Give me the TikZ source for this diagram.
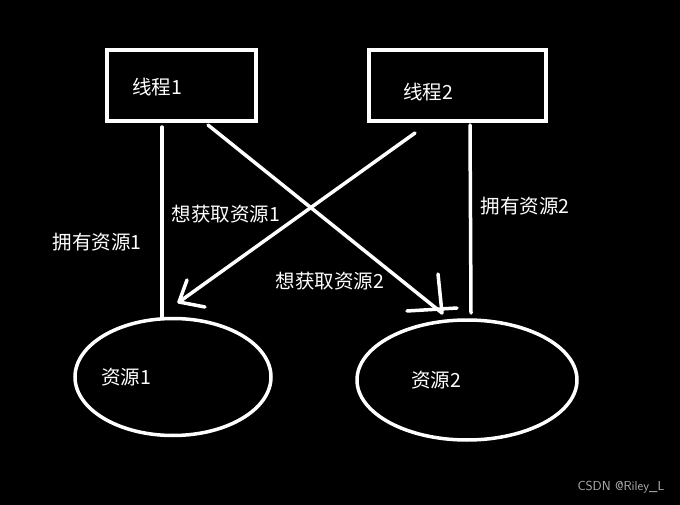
\documentclass[tikz,border=0pt]{standalone}
\usepackage{fontspec}
\setmainfont{Noto Sans CJK SC}
\usetikzlibrary{shapes.geometric}
\begin{document}
\begin{tikzpicture}[x=1pt,y=-1pt,
  ln/.style={draw=white,line width=3.5pt,line cap=round},
  boxst/.style={draw=white,line width=4pt,rectangle,inner sep=0pt},
  ellst/.style={draw=white,line width=3.5pt,ellipse,inner sep=0pt},
  lbl/.style={text=white,font=\fontsize{19.5}{22}\selectfont,inner sep=0pt}]
\fill[black] (0,0) rectangle (680,505);
\useasboundingbox (0,0) rectangle (680,505);
% boxes
\node[boxst,minimum width=149pt,minimum height=71pt] (t1) at (181.5,85.5) {};
\node[boxst,minimum width=177pt,minimum height=71pt] (t2) at (457,85.5) {};
\node[lbl] (t1l) at (157,87) {线程1};
\node[lbl] (t2l) at (428,92) {线程2};
% ellipses
\node[ellst,minimum width=196pt,minimum height=117pt] (r1) at (173,377) {};
\node[ellst,minimum width=220pt,minimum height=120pt] (r2) at (467,380) {};
\node[lbl] (r1l) at (126,377) {资源1};
\node[lbl] (r2l) at (436,380) {资源2};
% coordinates
\coordinate (a1) at (162,127);
\coordinate (a2) at (162,318);
\coordinate (b1) at (470,125);
\coordinate (b2) at (471,313);
\coordinate (c1) at (208,125);
\coordinate (c2) at (442,313);
\coordinate (c3) at (438,274);
\coordinate (c4) at (407,311);
\coordinate (c5) at (457,308);
\coordinate (d1) at (415,133);
\coordinate (d2) at (179,302);
\coordinate (d3) at (187,280);
\coordinate (d4) at (205,307);
% connectors
\draw[ln] (a1) -- (a2);
\draw[ln] (b1) -- (b2);
\draw[ln] (c1) -- (c2);
\draw[ln] (c2) -- (c3);
\draw[ln] (c4) -- (c5);
\draw[ln] (d1) -- (d2);
\draw[ln] (d2) -- (d3);
\draw[ln] (d2) -- (d4);
% labels
\node[lbl] (l1) at (226,214) {想获取资源1};
\node[lbl] (l2) at (97,242) {拥有资源1};
\node[lbl] (l3) at (525,206) {拥有资源2};
\node[lbl] (l4) at (330,281) {想获取资源2};
\node[text=black!30,font=\fontsize{13}{15}\selectfont\sffamily,inner sep=0pt] (wm) at (621,487) {CSDN @Riley\_L};
\end{tikzpicture}
\end{document}
